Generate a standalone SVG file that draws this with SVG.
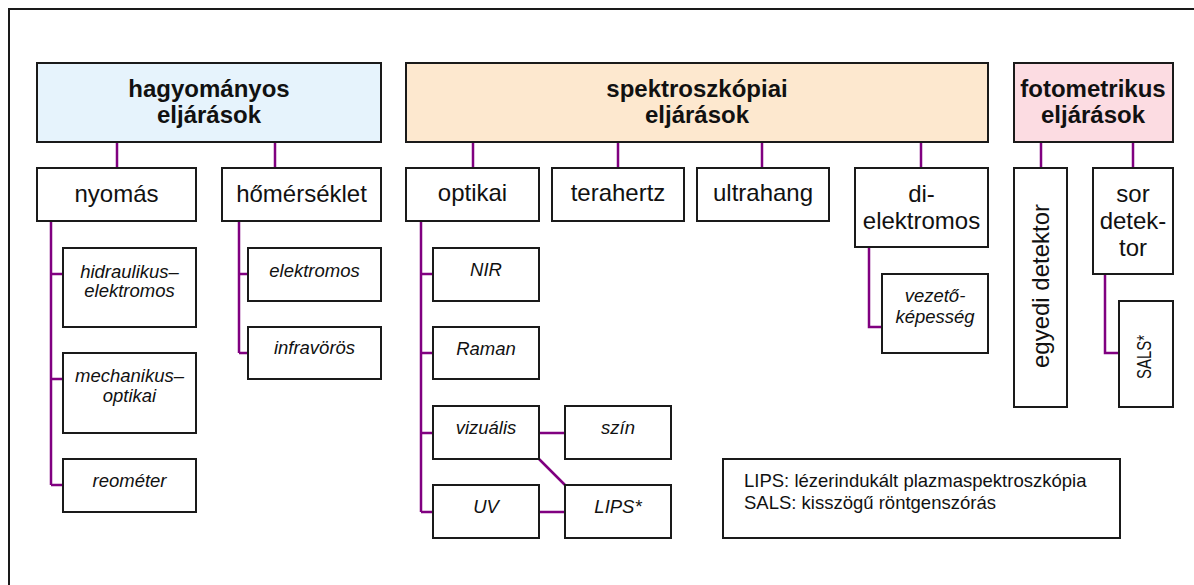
<svg xmlns="http://www.w3.org/2000/svg" width="1194" height="585" viewBox="0 0 1194 585">
<style>
.bx{fill:#fff;stroke:#1a1a1a;stroke-width:2}
.hb{fill:#e6f3fc}
.hs{fill:#fde8cf}
.hf{fill:#fcdce2}
.h{font-family:"Liberation Sans",Arial,sans-serif;font-size:24px;font-weight:bold;fill:#111;text-anchor:middle}
.t{font-family:"Liberation Sans",Arial,sans-serif;font-size:24px;fill:#111;text-anchor:middle}
.i{font-family:"Liberation Sans",Arial,sans-serif;font-size:18.5px;font-style:italic;fill:#111;text-anchor:middle}
.l{font-family:"Liberation Sans",Arial,sans-serif;font-size:18.5px;fill:#111}
.c{fill:none;stroke:#800080;stroke-width:2.5}
</style>
<rect x="9" y="9" width="1200" height="600" fill="#fff" stroke="#1a1a1a" stroke-width="2"/>
<g id="connectors">
<path class="c" d="M117 142V168M275 142V168M473 142V168M618 142V168M762 142V168M921 142V168M1041 142V168M1133 142V168"/>
<path class="c" d="M51 221V485M51 274H63M51 379H63M51 485H63"/>
<path class="c" d="M239 221V353M239 274H248M239 353H248"/>
<path class="c" d="M421 221V512M421 274H433M421 353H433M421 433H433M421 512H433"/>
<path class="c" d="M539 433H565M539 512H565M539 459L565 485"/>
<path class="c" d="M869 247V327H882"/>
<path class="c" d="M1105 274V353H1119"/>
</g>
<g id="hagyomanyos"><rect class="bx hb" x="37" y="63" width="344" height="79"/><text class="h" x="209" y="97">hagyományos</text><text class="h" x="209" y="123">eljárások</text></g>
<g id="spektroszkopiai"><rect class="bx hs" x="406" y="63" width="582" height="79"/><text class="h" x="697" y="97">spektroszkópiai</text><text class="h" x="697" y="123">eljárások</text></g>
<g id="fotometrikus"><rect class="bx hf" x="1014" y="63" width="159" height="79"/><text class="h" x="1093" y="97">fotometrikus</text><text class="h" x="1093" y="123">eljárások</text></g>
<g id="nyomas"><rect class="bx" x="37" y="168" width="159" height="53"/><text class="t" x="116.5" y="202">nyomás</text></g>
<g id="homerseklet"><rect class="bx" x="222" y="168" width="159" height="53"/><text class="t" x="301.5" y="202">hőmérséklet</text></g>
<g id="hidraulikus"><rect class="bx" x="63" y="248" width="133" height="79"/><text class="i" x="129.5" y="278">hidraulikus–</text><text class="i" x="129.5" y="297">elektromos</text></g>
<g id="mechanikus"><rect class="bx" x="63" y="353" width="133" height="80"/><text class="i" x="129.5" y="382">mechanikus–</text><text class="i" x="129.5" y="402">optikai</text></g>
<g id="reometer"><rect class="bx" x="63" y="459" width="133" height="53"/><text class="i" x="129.5" y="487">reométer</text></g>
<g id="elektromos"><rect class="bx" x="248" y="248" width="133" height="53"/><text class="i" x="314.5" y="277">elektromos</text></g>
<g id="infravoros"><rect class="bx" x="248" y="327" width="133" height="52"/><text class="i" x="314.5" y="354">infravörös</text></g>
<g id="optikai"><rect class="bx" x="406" y="168" width="133" height="53"/><text class="t" x="472.5" y="201">optikai</text></g>
<g id="terahertz"><rect class="bx" x="552" y="168" width="132" height="53"/><text class="t" x="618" y="201">terahertz</text></g>
<g id="ultrahang"><rect class="bx" x="697" y="168" width="132" height="53"/><text class="t" x="763" y="201">ultrahang</text></g>
<g id="dielektromos"><rect class="bx" x="855" y="168" width="133" height="79"/><text class="t" x="921.5" y="202">di-</text><text class="t" x="921.5" y="229">elektromos</text></g>
<g id="nir"><rect class="bx" x="433" y="248" width="106" height="53"/><text class="i" x="486" y="276">NIR</text></g>
<g id="raman"><rect class="bx" x="433" y="327" width="106" height="52"/><text class="i" x="486" y="355">Raman</text></g>
<g id="vizualis"><rect class="bx" x="433" y="406" width="106" height="53"/><text class="i" x="486" y="434">vizuális</text></g>
<g id="uv"><rect class="bx" x="433" y="485" width="106" height="53"/><text class="i" x="486" y="513">UV</text></g>
<g id="szin"><rect class="bx" x="565" y="406" width="106" height="53"/><text class="i" x="618" y="434">szín</text></g>
<g id="lips"><rect class="bx" x="565" y="485" width="106" height="53"/><text class="i" x="618" y="513">LIPS*</text></g>
<g id="vezetokepesseg"><rect class="bx" x="882" y="274" width="106" height="79"/><text class="i" x="935" y="302">vezető-</text><text class="i" x="935" y="323">képesség</text></g>
<g id="egyedidetektor"><rect class="bx" x="1014" y="168" width="53" height="239"/><text class="t" transform="translate(1049 286) rotate(-90)">egyedi detektor</text></g>
<g id="sordetektor"><rect class="bx" x="1093" y="168" width="80" height="106"/><text class="t" x="1133" y="202">sor</text><text class="t" x="1133" y="229">detek-</text><text class="t" x="1133" y="256">tor</text></g>
<g id="sals"><rect class="bx" x="1119" y="301" width="54" height="106"/><text class="t" style="font-size:20px" textLength="44" lengthAdjust="spacingAndGlyphs" transform="translate(1151 357) rotate(-90)">SALS*</text></g>
<g id="legend"><rect class="bx" x="723" y="459" width="397" height="79"/><text class="l" x="744" y="487">LIPS: lézerindukált plazmaspektroszkópia</text><text class="l" x="744" y="509">SALS: kisszögű röntgenszórás</text></g>
</svg>
